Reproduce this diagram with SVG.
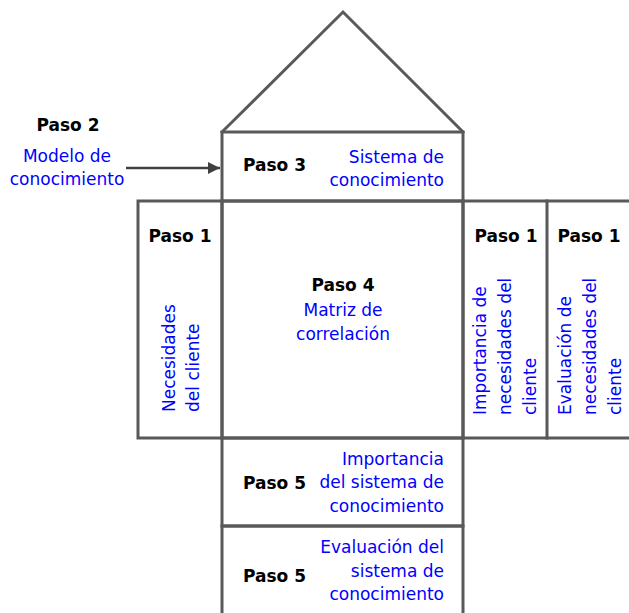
<svg xmlns="http://www.w3.org/2000/svg" width="629" height="613" viewBox="0 0 629 613">
<defs>
<style>
.ln{fill:none;stroke:#595959;stroke-width:3;stroke-linecap:square}
.bk{font-family:"DejaVu Sans",Verdana,sans-serif;font-size:17px;font-weight:bold;fill:#000}
.bl{font-family:"DejaVu Sans",Verdana,sans-serif;font-size:17px;fill:#0000ff}
.c{text-anchor:middle}
.r{text-anchor:end}
</style>
<marker id="ah" viewBox="0 0 10 10" refX="10" refY="5" markerWidth="5" markerHeight="5" orient="auto" markerUnits="strokeWidth">
<path d="M0,0 L10,5 L0,10 z" fill="#404040"/>
</marker>
</defs>
<rect width="629" height="613" fill="#fff"/>

<g id="roof">
<polyline class="ln" points="222,132 343,12 463,132"/>
</g>

<g id="paso2">
<text class="bk c" x="68" y="131">Paso 2</text>
<text class="bl c" x="67" y="162">Modelo de</text>
<text class="bl c" x="67" y="185">conocimiento</text>
</g>

<g id="paso3">
<rect class="ln" x="222" y="132" width="241" height="69"/>
<text class="bk" x="243" y="171">Paso 3</text>
<text class="bl r" x="444" y="163">Sistema de</text>
<text class="bl r" x="444" y="186">conocimiento</text>
</g>

<g id="paso1-necesidades">
<rect class="ln" x="138" y="201" width="84" height="237"/>
<text class="bk c" x="180" y="242">Paso 1</text>
<text class="bl" transform="translate(175,412) rotate(-90)">Necesidades<tspan x="0" dy="24">del cliente</tspan></text>
</g>

<g id="paso4">
<rect class="ln" x="222" y="201" width="241" height="237"/>
<text class="bk c" x="343" y="291">Paso 4</text>
<text class="bl c" x="343" y="316">Matriz de</text>
<text class="bl c" x="343" y="340">correlación</text>
</g>

<g id="paso1-importancia">
<rect class="ln" x="463" y="201" width="84" height="237"/>
<text class="bk c" x="506" y="242">Paso 1</text>
<text class="bl" transform="translate(486,415) rotate(-90)">Importancia de<tspan x="0" dy="25">necesidades del</tspan><tspan x="0" dy="25">cliente</tspan></text>
</g>

<g id="paso1-evaluacion">
<polyline class="ln" points="547,201 632,201"/>
<polyline class="ln" points="547,438 632,438"/>
<text class="bk c" x="589" y="242">Paso 1</text>
<text class="bl" transform="translate(571,415) rotate(-90)">Evaluación de<tspan x="0" dy="25">necesidades del</tspan><tspan x="0" dy="25">cliente</tspan></text>
</g>

<g id="paso5-importancia">
<rect class="ln" x="222" y="438" width="241" height="88"/>
<text class="bk" x="243" y="489">Paso 5</text>
<text class="bl r" x="444" y="465">Importancia</text>
<text class="bl r" x="444" y="488">del sistema de</text>
<text class="bl r" x="444" y="512">conocimiento</text>
</g>

<g id="paso5-evaluacion">
<rect class="ln" x="222" y="526" width="241" height="92"/>
<text class="bk" x="243" y="582">Paso 5</text>
<text class="bl r" x="444" y="553">Evaluación del</text>
<text class="bl r" x="444" y="577">sistema de</text>
<text class="bl r" x="444" y="600">conocimiento</text>
</g>

<g id="connectors">
<line x1="126" y1="168" x2="220" y2="168" stroke="#404040" stroke-width="2.5" marker-end="url(#ah)"/>
</g>
</svg>
